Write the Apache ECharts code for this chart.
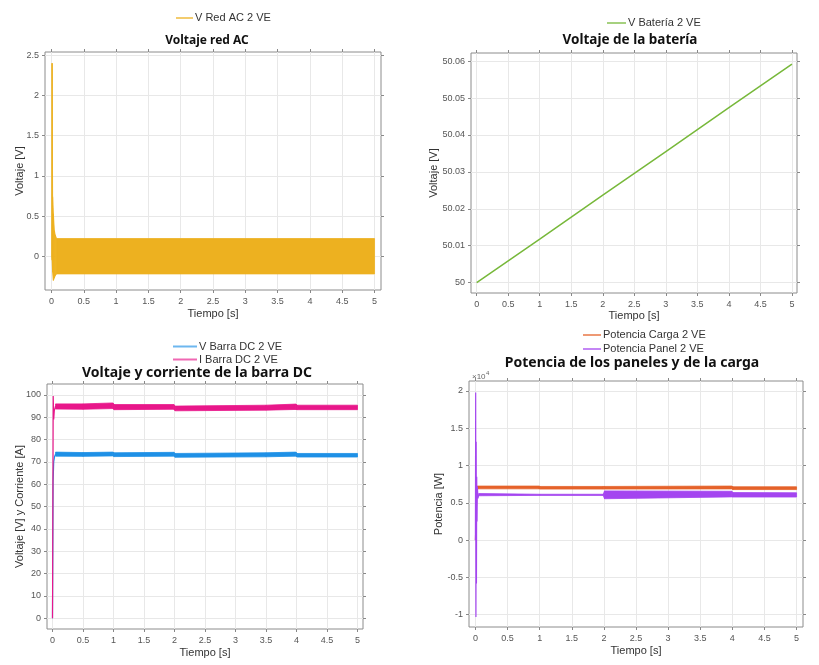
<!DOCTYPE html>
<html>
<head>
<meta charset="utf-8">
<title>Voltajes y potencias 2 VE</title>
<script src="https://cdn.jsdelivr.net/npm/echarts@6/dist/echarts.min.js"></script>
<style>
  html, body { margin: 0; padding: 0; background: #fff; }
  #main { width: 819px; height: 665px; }
</style>
</head>
<body>
<div id="main"></div>
<script>
var chart = echarts.init(document.getElementById('main'));

// tick labels
var timeTicks = [0, 0.5, 1, 1.5, 2, 2.5, 3, 3.5, 4, 4.5, 5];
var acTicks = [0, 0.5, 1, 1.5, 2, 2.5];
var batTicks = [50, 50.01, 50.02, 50.03, 50.04, 50.05, 50.06];
var dcTicks = [0, 10, 20, 30, 40, 50, 60, 70, 80, 90, 100];
var potTicks = [-10000, -5000, 0, 5000, 10000, 15000, 20000];

// Voltaje red AC: envolvente de la oscilacion
var acTime = [0.004, 0.01, 0.018, 0.03, 0.045, 0.06, 0.08, 5];
var acHigh = [0, 2.4, 0.74, 0.53, 0.32, 0.26, 0.22, 0.22];
var acLow = [0, -0.05, -0.2, -0.3, -0.27, -0.24, -0.22, -0.22];

// Voltaje de la bateria
var batTime = [0, 1, 2, 3, 4, 5];
var batVolt = [50, 50.0118, 50.0237, 50.0355, 50.0474, 50.0592];

// Barra DC: arranque
var vDcStartTime = [0, 0.01, 0.02, 0.035, 0.05];
var vDcStart = [0, 61, 70, 72.5, 73.5];
var iDcStartTime = [0, 0.012, 0.02, 0.03, 0.05];
var iDcStart = [0, 99.5, 89, 93, 95];
// Barra DC: envolventes
var dcTime = [0.05, 0.5, 0.99, 1.01, 1.99, 2.01, 3.5, 3.99, 4.01, 5];
var vDcHigh = [74.4, 74.2, 74.4, 74.1, 74.3, 73.8, 74.1, 74.4, 73.8, 73.8];
var vDcLow = [72.6, 72.5, 72.7, 72.4, 72.6, 72.1, 72.3, 72.6, 72.2, 72.2];
var iDcHigh = [96.0, 96.0, 96.4, 95.7, 95.7, 95.0, 95.4, 95.9, 95.4, 95.4];
var iDcLow = [93.7, 93.6, 93.9, 93.4, 93.6, 92.9, 93.2, 93.5, 93.4, 93.4];

// Potencias: arranque
var cargaStartTime = [0, 0.025, 0.04];
var cargaStart = [0, 7300, 7050];
var panelStartTime = [0, 0.004, 0.008, 0.012, 0.016, 0.02, 0.025, 0.03, 0.04, 0.05];
var panelStart = [0, 19800, -10300, 13200, -5800, 8500, 2500, 7200, 5600, 6100];
// Potencias: envolventes
var cargaTime = [0.04, 0.99, 1.01, 1.99, 2.01, 3.99, 4.01, 5];
var cargaHigh = [7250, 7250, 7200, 7200, 7200, 7250, 7150, 7150];
var cargaLow = [6880, 6880, 6850, 6850, 6850, 6870, 6780, 6780];
var panelTime = [0.05, 1, 1.99, 2.01, 3.99, 4.01, 5];
var panelHigh = [6250, 6150, 6150, 6600, 6550, 6380, 6350];
var panelLow = [5950, 6000, 6000, 5550, 5800, 5780, 5780];

var FONT = 'Liberation Sans';

function pairs(t, v) {
  return t.map(function(x, i) { return [x, v[i]]; });
}
function rows(t, lo, hi) {
  return t.map(function(x, i) { return [x, lo[i], hi[i]]; });
}

// banda rellena entre envolvente inferior y superior
function renderBand(params, api) {
  var i = params.dataIndexInside;
  if (i >= params.dataInsideLength - 1) return;
  var p0 = api.coord([api.value(0, i), api.value(1, i)]);
  var p1 = api.coord([api.value(0, i + 1), api.value(1, i + 1)]);
  var p2 = api.coord([api.value(0, i + 1), api.value(2, i + 1)]);
  var p3 = api.coord([api.value(0, i), api.value(2, i)]);
  var color = api.visual('color');
  return {
    type: 'polygon',
    shape: { points: [p0, p1, p2, p3] },
    style: { fill: color, stroke: color, lineWidth: 0.8 }
  };
}

function xMain(g, min, max, gap) {
  return {
    type: 'value', gridIndex: g, min: min, max: max, position: 'bottom',
    axisLine: { show: false, onZero: false },
    axisTick: { show: true, length: 3, customValues: timeTicks, lineStyle: { color: '#888' } },
    axisLabel: { customValues: timeTicks, color: '#555', fontSize: 9, margin: 7, fontFamily: FONT },
    splitLine: { show: true, lineStyle: { color: '#e8e8e8' } },
    name: 'Tiempo [s]', nameLocation: 'middle', nameGap: gap, nameMoveOverlap: false,
    nameTextStyle: { color: '#333', fontSize: 11, fontFamily: FONT }
  };
}
function xTop(g, min, max) {
  return {
    type: 'value', gridIndex: g, min: min, max: max, position: 'top',
    axisLine: { show: false, onZero: false },
    axisTick: { show: true, length: 3, customValues: timeTicks, lineStyle: { color: '#888' } },
    axisLabel: { show: false },
    splitLine: { show: false }
  };
}
function yMain(g, min, max, ticks, name, gap, fmt) {
  return {
    type: 'value', gridIndex: g, min: min, max: max, position: 'left',
    axisLine: { show: false, onZero: false },
    axisTick: { show: true, length: 3, customValues: ticks, lineStyle: { color: '#888' } },
    axisLabel: { customValues: ticks, color: '#555', fontSize: 9, margin: 6, fontFamily: FONT, formatter: fmt },
    splitLine: { show: true, lineStyle: { color: '#e8e8e8' } },
    name: name, nameLocation: 'middle', nameGap: gap, nameMoveOverlap: false,
    nameTextStyle: { color: '#333', fontSize: 11, fontFamily: FONT }
  };
}
function yRight(g, min, max, ticks) {
  return {
    type: 'value', gridIndex: g, min: min, max: max, position: 'right',
    axisLine: { show: false, onZero: false },
    axisTick: { show: true, length: 3, customValues: ticks, lineStyle: { color: '#888' } },
    axisLabel: { show: false },
    splitLine: { show: false }
  };
}

function title(text, x, y, size) {
  return {
    type: 'text', x: x, y: y,
    style: {
      text: text, fill: '#111', font: 'bold ' + size + 'px "Noto Sans"',
      align: 'center', verticalAlign: 'middle', textAlign: 'center', textVerticalAlign: 'middle'
    }
  };
}

function legend(names, left, top, w, lh) {
  return {
    data: names.map(function(n) { return { name: n, itemStyle: { opacity: 0.65 } }; }),
    orient: 'vertical', left: left, top: top, itemGap: 0, padding: 0,
    icon: 'rect', itemWidth: w, itemHeight: 2, selectedMode: false,
    textStyle: { fontSize: 11, color: '#333', fontFamily: FONT, lineHeight: lh, padding: [0, 0, 0, -3] }
  };
}

var gridStyle = { show: true, borderColor: '#8c8c8c', borderWidth: 1, backgroundColor: 'transparent' };
var grids = [
  { left: 45, top: 52, width: 336, height: 238 },
  { left: 471, top: 53, width: 326, height: 240 },
  { left: 47, top: 384, width: 316, height: 245 },
  { left: 469, top: 381, width: 334, height: 246 }
].map(function(g) { return Object.assign({}, gridStyle, g); });

var option = {
  animation: false,
  textStyle: { fontFamily: FONT },
  grid: grids,
  legend: [
    legend(['V Red AC 2 VE'], 176, 11, 17, 14),
    legend(['V Batería 2 VE'], 607, 16, 19, 14),
    legend(['V Barra DC 2 VE', 'I Barra DC 2 VE'], 173, 340, 24, 13),
    legend(['Potencia Carga 2 VE', 'Potencia Panel 2 VE'], 583, 328, 18, 14)
  ],
  graphic: [
    title('Voltaje red AC', 207, 41, 12),
    title('Voltaje de la batería', 630, 40, 13.5),
    title('Voltaje y corriente de la barra DC', 197, 373, 14),
    title('Potencia de los paneles y de la carga', 632, 363, 14),
    { type: 'text', x: 472, y: 373, style: { text: '×10', fill: '#666', font: '8px "Liberation Sans"' } },
    { type: 'text', x: 486, y: 370, style: { text: '4', fill: '#666', font: '6px "Liberation Sans"' } }
  ],
  xAxis: [
    xMain(0, -0.1, 5.1, 18),
    xMain(1, -0.09, 5.08, 17),
    xMain(2, -0.09, 5.09, 18),
    xMain(3, -0.1, 5.1, 18),
    xTop(0, -0.1, 5.1),
    xTop(1, -0.09, 5.08),
    xTop(2, -0.09, 5.09),
    xTop(3, -0.1, 5.1)
  ],
  yAxis: [
    yMain(0, -0.42, 2.54, acTicks, 'Voltaje [V]', 20),
    yMain(1, 49.9972, 50.0622, batTicks, 'Voltaje [V]', 32),
    yMain(2, -4.8, 104.9, dcTicks, 'Voltaje [V] y Corriente [A]', 22),
    yMain(3, -11650, 21340, potTicks, 'Potencia [W]', 25, function(v) { return String(v / 10000); }),
    yRight(0, -0.42, 2.54, acTicks),
    yRight(1, 49.9972, 50.0622, batTicks),
    yRight(2, -4.8, 104.9, dcTicks),
    yRight(3, -11650, 21340, potTicks)
  ],
  series: [
    {
      name: 'V Red AC 2 VE', type: 'custom', xAxisIndex: 0, yAxisIndex: 0,
      renderItem: renderBand, encode: { x: 0, y: [1, 2] },
      itemStyle: { color: '#EDB120' },
      data: rows(acTime, acLow, acHigh)
    },
    {
      name: 'V Batería 2 VE', type: 'line', xAxisIndex: 1, yAxisIndex: 1,
      showSymbol: false, itemStyle: { color: '#77B83A' }, lineStyle: { color: '#77B83A', width: 1.5 },
      data: pairs(batTime, batVolt)
    },
    {
      name: 'V Barra DC 2 VE', type: 'line', xAxisIndex: 2, yAxisIndex: 2,
      showSymbol: false, itemStyle: { color: '#1E90E6' }, lineStyle: { color: '#1E90E6', width: 1.2 },
      data: pairs(vDcStartTime, vDcStart)
    },
    {
      name: 'V Barra DC 2 VE', type: 'custom', xAxisIndex: 2, yAxisIndex: 2,
      renderItem: renderBand, encode: { x: 0, y: [1, 2] },
      itemStyle: { color: '#1E90E6' },
      data: rows(dcTime, vDcLow, vDcHigh)
    },
    {
      name: 'I Barra DC 2 VE', type: 'line', xAxisIndex: 2, yAxisIndex: 2,
      showSymbol: false, itemStyle: { color: '#E8178A' }, lineStyle: { color: '#E8178A', width: 1.2 },
      data: pairs(iDcStartTime, iDcStart)
    },
    {
      name: 'I Barra DC 2 VE', type: 'custom', xAxisIndex: 2, yAxisIndex: 2,
      renderItem: renderBand, encode: { x: 0, y: [1, 2] },
      itemStyle: { color: '#E8178A' },
      data: rows(dcTime, iDcLow, iDcHigh)
    },
    {
      name: 'Potencia Carga 2 VE', type: 'line', xAxisIndex: 3, yAxisIndex: 3,
      showSymbol: false, itemStyle: { color: '#E5622A' }, lineStyle: { color: '#E5622A', width: 1.2 },
      data: pairs(cargaStartTime, cargaStart)
    },
    {
      name: 'Potencia Carga 2 VE', type: 'custom', xAxisIndex: 3, yAxisIndex: 3,
      renderItem: renderBand, encode: { x: 0, y: [1, 2] },
      itemStyle: { color: '#E5622A' },
      data: rows(cargaTime, cargaLow, cargaHigh)
    },
    {
      name: 'Potencia Panel 2 VE', type: 'line', xAxisIndex: 3, yAxisIndex: 3,
      showSymbol: false, itemStyle: { color: '#A445F0' }, lineStyle: { color: '#A445F0', width: 1.2 },
      data: pairs(panelStartTime, panelStart)
    },
    {
      name: 'Potencia Panel 2 VE', type: 'custom', xAxisIndex: 3, yAxisIndex: 3,
      renderItem: renderBand, encode: { x: 0, y: [1, 2] },
      itemStyle: { color: '#A445F0' },
      data: rows(panelTime, panelLow, panelHigh)
    }
  ]
};

chart.setOption(option);
</script>
</body>
</html>
